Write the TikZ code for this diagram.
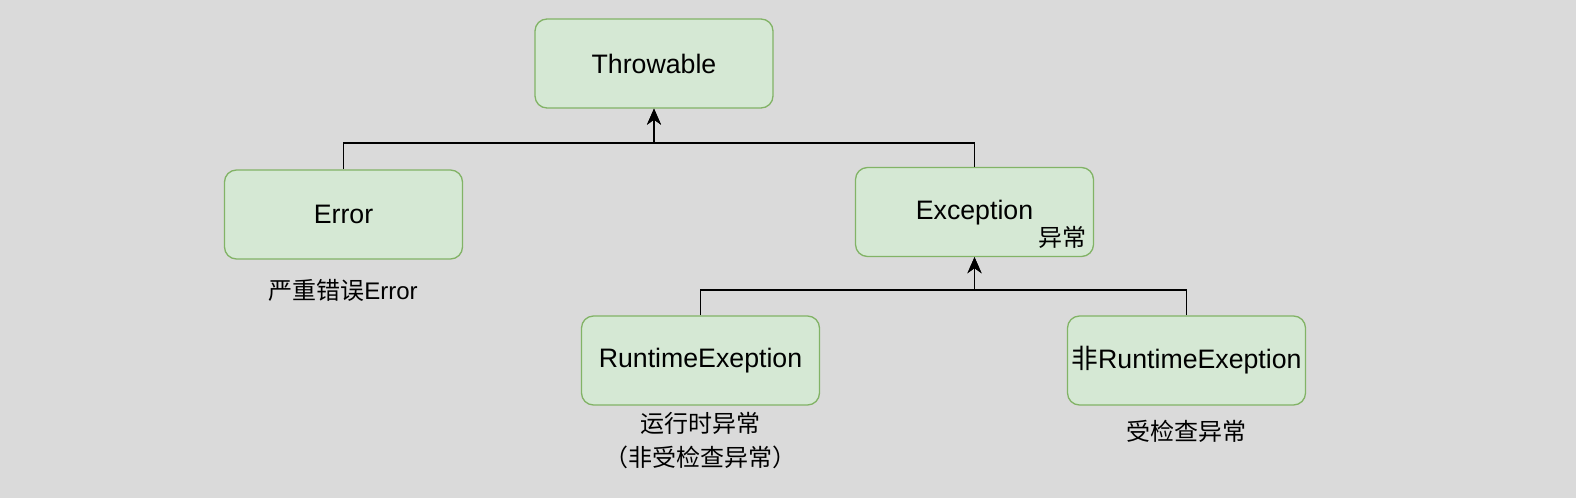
\documentclass[tikz,border=0pt]{standalone}
\usepackage{fontspec}
\setmainfont{Liberation Sans}
\newfontfamily\cjk{Noto Sans CJK SC}
\usetikzlibrary{arrows.meta}
\definecolor{bggray}{HTML}{DADADA}
\definecolor{boxfill}{HTML}{D5E8D4}
\definecolor{boxline}{HTML}{82B366}
\begin{document}
\begin{tikzpicture}[
	x=1pt, y=-1pt,
	box/.style={
		rectangle,
		rounded corners=12pt,
		draw=boxline,
		fill=boxfill,
		line width=1.3pt,
		minimum width=238pt,
		minimum height=89pt,
		align=center,
		font=\fontsize{26.7}{32}\selectfont
	},
	note/.style={align=center, inner sep=0pt, font=\fontsize{24}{30}\selectfont},
	arrow/.style={line width=1.4pt, -{Stealth[length=16pt,width=14pt,inset=5pt]}}
]

% Fondo
\fill[bggray] (0,0) rectangle (1576,498);
\useasboundingbox (0,0) rectangle (1576,498);

% Clase raiz
\node[box] (throwable) at (654, 63.5) {Throwable};

% Segundo nivel
\node[box] (error) at (343.5, 214.5) {Error};
\node[box, text depth=4pt] (exception) at (974.5, 212) {Exception};
\node[note] (excnote) at (1062, 237) {\cjk 异常};

% Tercer nivel
\node[box] (runtime) at (700.5, 360.5) {RuntimeExeption};
\node[box] (nonruntime) at (1186.5, 360.5) {{\cjk 非}RuntimeExeption};

% Etiquetas
\node[note] (errnote) at (343, 290) {{\cjk 严重错误}Error};
\node[note] (rtnote) at (700, 441) {\cjk 运行时异常\\[4pt]\cjk （非受检查异常）};
\node[note] (nrtnote) at (1186, 431) {\cjk 受检查异常};

% Puntos de union
\coordinate (bus1) at (654, 143);
\coordinate (bus2) at (974.5, 290);

% Flechas de conexion
\draw[arrow] (error.north) |- (bus1) -- (throwable.south);
\draw[arrow] (exception.north) |- (bus1) -- (throwable.south);
\draw[arrow] (runtime.north) |- (bus2) -- (exception.south);
\draw[arrow] (nonruntime.north) |- (bus2) -- (exception.south);

\end{tikzpicture}
\end{document}
